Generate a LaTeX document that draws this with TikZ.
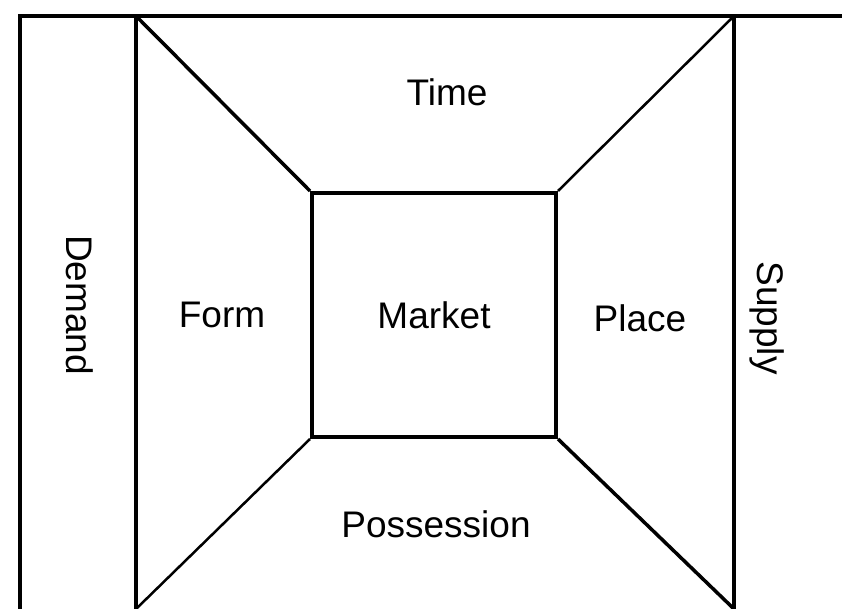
\documentclass[tikz,border=0pt]{standalone}
\usepackage{fontspec}
\setmainfont{Liberation Sans}
\usetikzlibrary{positioning}

\begin{document}
\begin{tikzpicture}[x=1pt, y=-1pt,
  frame/.style={line width=4pt},
  diag/.style={line width=3.5pt},
  lbl/.style={font=\fontsize{37}{44}\selectfont}]

\useasboundingbox (0,0) rectangle (842,609);

% Define corners
\coordinate (otl) at (20,16);
\coordinate (obl) at (20,609);
\coordinate (tl) at (136,16);
\coordinate (bl) at (136,609);
\coordinate (tr) at (734,16);
\coordinate (br) at (734,609);
\coordinate (ortr) at (842,16);

% Define boxes
\node[draw, frame, rectangle, minimum width=244pt, minimum height=244pt, inner sep=0pt, lbl] (market) at (434,315) {Market};
\node[lbl] (time) at (447,92) {Time};
\node[lbl] (form) at (222,315) {Form};
\node[lbl] (place) at (640,318) {Place};
\node[lbl] (possession) at (436,524) {Possession};
\node[lbl, rotate=-90] (demand) at (80,305) {Demand};
\node[lbl, rotate=-90] (supply) at (767,318) {Supply};

% Draw frame
\draw[frame] (obl) -- (otl) -- (ortr);
\draw[frame] (tl) -- (bl);
\draw[frame] (tr) -- (br);

% Draw diagonals
\draw[diag] (tl) -- (market.north west);
\draw[diag, line width=2.5pt] (tr) -- (market.north east);
\draw[diag, line width=2.5pt] (bl) -- (market.south west);
\draw[diag] (br) -- (market.south east);

\end{tikzpicture}
\end{document}
